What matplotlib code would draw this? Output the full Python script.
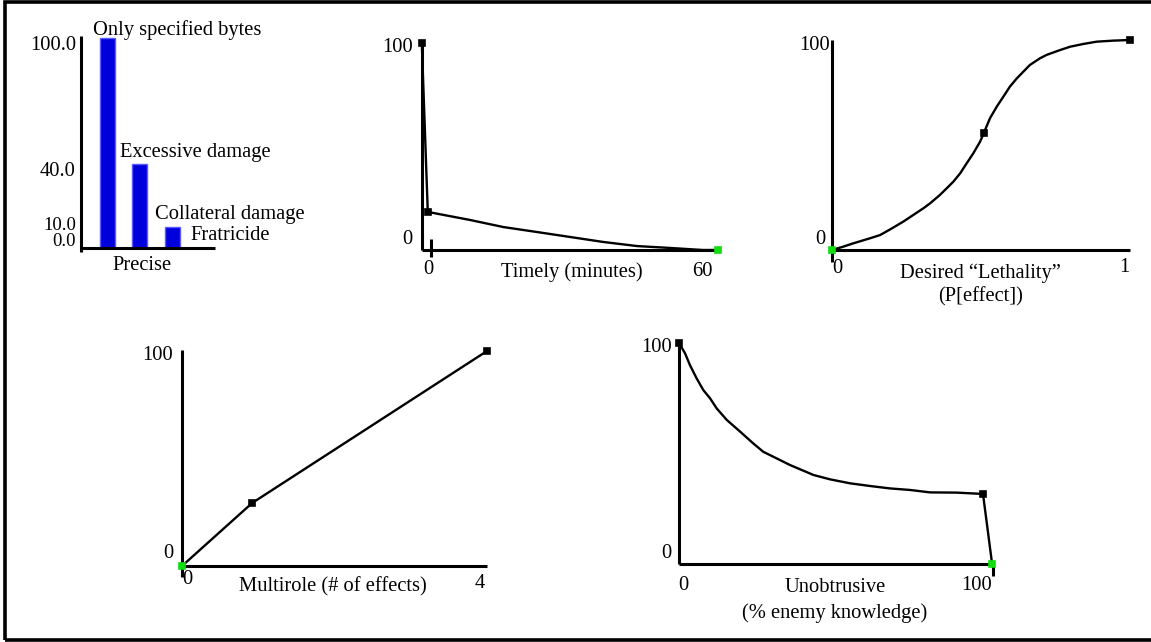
import matplotlib
matplotlib.use("Agg")
import matplotlib.pyplot as plt
from matplotlib.patches import Rectangle
from matplotlib.lines import Line2D

plt.rcParams['font.family'] = ['Liberation Serif', 'DejaVu Serif']

# ---------------- data ----------------
bar_labels = ["Only specified bytes", "Excessive damage", "Collateral damage", "Fratricide"]
bar_values = [100.0, 40.0, 10.0, 0.0]
bar_yticks = [100.0, 40.0, 10.0, 0.0]
bar_xlabel = "Precise"

timely_x = [-2.0, -0.7, 8.5, 15.7, 23.0, 30.2, 37.4, 44.8, 51.9, 59.1, 62.4]
timely_y = [100.0, 18.4, 14.5, 11.1, 8.7, 6.3, 3.9, 1.9, 1.0, 0.0, 0.0]
timely_xticks = [0, 60]
timely_yticks = [100, 0]
timely_xlabel = "Timely (minutes)"

leth_x = [0.0, 0.038, 0.072, 0.128, 0.161, 0.195, 0.239, 0.273, 0.306, 0.329,
          0.362, 0.385, 0.407, 0.430, 0.452, 0.474, 0.497, 0.510, 0.530, 0.553,
          0.575, 0.597, 0.620, 0.664, 0.698, 0.720, 0.765, 0.799, 0.843, 0.888,
          0.944, 1.0]
leth_y = [0.0, 1.6, 3.2, 5.6, 7.1, 9.8, 13.5, 16.7, 19.8, 22.2,
          26.2, 29.4, 32.5, 36.5, 41.3, 46.0, 51.6, 55.9, 62.7, 68.3,
          73.0, 77.8, 81.7, 88.1, 91.3, 92.9, 95.2, 96.8, 98.1, 99.2,
          99.7, 100.0]
leth_markers_idx = [17, 31]
leth_xticks = [0, 1]
leth_yticks = [100, 0]
leth_xlabel = ["Desired \u201cLethality\u201d", "(P[effect])"]

multi_x = [0.0, 0.92, 4.0]
multi_y = [0.0, 29.3, 100.0]
multi_xticks = [0, 4]
multi_yticks = [100, 0]
multi_xlabel = "Multirole (# of effects)"

unob_x = [0.0, 2.0, 3.6, 5.8, 8.0, 10.2, 12.4, 15.7, 20.1, 24.4, 27.7, 32.1,
          36.5, 44.2, 49.7, 56.3, 62.8, 69.4, 76.0, 82.6, 91.3, 100.0, 103.0]
unob_y = [100.0, 95.3, 90.0, 84.0, 78.7, 75.0, 70.4, 65.2, 59.9, 54.6, 50.8, 47.8,
          44.8, 40.3, 38.3, 36.5, 35.3, 34.2, 33.5, 32.4, 32.3, 31.7, 0.0]
unob_markers_idx = [0, 21]
unob_xticks = [0, 100]
unob_yticks = [100, 0]
unob_xlabel = ["Unobtrusive", "(% enemy knowledge)"]

# ---------------- figure ----------------
W, H = 1151, 642
fig = plt.figure(figsize=(W / 100, H / 100), dpi=100)
fig.patch.set_facecolor("white")

# outer border
fig.add_artist(Rectangle((4.5 / W, 1 - 639.5 / H), (1160 - 4.5) / W, (639.5 - 2) / H,
                         transform=fig.transFigure, fill=False, lw=2.6, ec="black"))

FS = 14.8
AX_LW = 2.2
CURVE_LW = 1.7
GREEN = "#11dd11"


def panel(px0, py0, sx, sy, box):
    """px0,py0: pixel of data origin; sx,sy: px per data unit; box=(l,t,r,b) pixels."""
    l, t, r, b = box
    ax = fig.add_axes([l / W, 1 - b / H, (r - l) / W, (b - t) / H])
    ax.set_xlim((l - px0) / sx, (r - px0) / sx)
    ax.set_ylim((py0 - b) / sy, (py0 - t) / sy)
    ax.set_facecolor("none")
    for s in ax.spines.values():
        s.set_visible(False)
    ax.set_xticks([])
    ax.set_yticks([])
    return ax


def vline(ax, x, y0, y1):
    ax.add_line(Line2D([x, x], [y0, y1], color="black", lw=AX_LW, solid_capstyle="butt"))


def hline(ax, y, x0, x1):
    ax.add_line(Line2D([x0, x1], [y, y], color="black", lw=AX_LW, solid_capstyle="butt"))


def lab(ax, s, x, y, dx=0, dy=0, ha="center", va="center", fs=FS):
    ax.annotate(s, (x, y), xytext=(dx, -dy), textcoords="offset pixels",
                ha=ha, va=va, fontsize=fs, annotation_clip=False)


def sq(ax, x, y, color):
    ax.plot([x], [y], marker="s", ms=5, mfc=color, mec="black" if color != GREEN else GREEN,
            mew=1.2, ls="none", zorder=5, clip_on=False)

# ---- Panel 1: bar chart ----
ax1 = panel(81, 248, 1.0, 2.1, (20, 15, 300, 285))
bar_x = [26, 58.5, 91]
ax1.bar(bar_x[:3], bar_values[:3], width=15, color="#0000dd", edgecolor="#5a5aff",
        lw=1.0, align="center", zorder=2)
vline(ax1, 0, -2, 101)
hline(ax1, 0, 0, 134)
tick_dy = {100.0: 7, 40.0: 8, 10.0: -1, 0.0: -6}
for v in bar_yticks:
    small = v in (10.0, 0.0)
    lab(ax1, f"{v:.1f}", 0, v, dx=-5, dy=tick_dy[v], ha="right",
        fs=13.5 if small else FS)
lab(ax1, bar_labels[0], 12, bar_values[0], dy=-8, ha="left")
lab(ax1, bar_labels[1], 39, bar_values[1], dy=-12, ha="left")
lab(ax1, bar_labels[2], 74, bar_values[2], dy=-13, ha="left")
lab(ax1, bar_labels[3], 109, bar_values[3], dy=-12, ha="left")
lab(ax1, bar_xlabel, 61, 0, dy=17)

# ---- Panel 2: Timely ----
ax2 = panel(431, 250, 4.6, 2.07, (375, 25, 740, 285))
vline(ax2, -2, 0, 100.5)
hline(ax2, 0, -2, 62.4)
vline(ax2, 0, -3.4, 5.3)
ax2.plot(timely_x, timely_y, color="black", lw=CURVE_LW, zorder=4, clip_on=False)
sq(ax2, timely_x[0], timely_y[0], "black")
sq(ax2, timely_x[1], timely_y[1], "black")
sq(ax2, timely_x[-1], timely_y[-1], GREEN)
lab(ax2, str(timely_yticks[0]), -2, 100, dx=-9, dy=5, ha="right")
lab(ax2, str(timely_yticks[1]), -2, 0, dx=-9, dy=-10, ha="right")
lab(ax2, str(timely_xticks[0]), 0, 0, dx=-3, dy=19)
lab(ax2, str(timely_xticks[1]), 60, 0, dx=-5, dy=22)
lab(ax2, timely_xlabel, 30.6, 0, dy=22)

# ---- Panel 3: Lethality ----
ax3 = panel(832, 250, 298, 2.1, (780, 25, 1150, 310))
vline(ax3, 0, -5.7, 100)
hline(ax3, 0, 0, 1.0)
ax3.plot(leth_x, leth_y, color="black", lw=CURVE_LW, zorder=4, clip_on=False)
for i in leth_markers_idx:
    sq(ax3, leth_x[i], leth_y[i], "black")
sq(ax3, leth_x[0], leth_y[0], GREEN)
lab(ax3, str(leth_yticks[0]), 0, 100, dx=-2, dy=5, ha="right")
lab(ax3, str(leth_yticks[1]), 0, 0, dx=-7, dy=-10, ha="right")
lab(ax3, str(leth_xticks[0]), 0, 0, dx=5, dy=19)
lab(ax3, str(leth_xticks[1]), 1, 0, dx=-6, dy=18)
lab(ax3, leth_xlabel[0], 0.497, 0, dy=23)
lab(ax3, leth_xlabel[1], 0.497, 0, dy=47)

# ---- Panel 4: Multirole ----
ax4 = panel(182, 566, 76.25, 2.15, (130, 335, 510, 610))
vline(ax4, 0, -5.1, 100.5)
hline(ax4, 0, 0, 4.0)
ax4.plot(multi_x, multi_y, color="black", lw=CURVE_LW, zorder=4, clip_on=False)
sq(ax4, multi_x[1], multi_y[1], "black")
sq(ax4, multi_x[2], multi_y[2], "black")
sq(ax4, multi_x[0], multi_y[0], GREEN)
lab(ax4, str(multi_yticks[0]), 0, 100, dx=-9, dy=4, ha="right")
lab(ax4, str(multi_yticks[1]), 0, 0, dx=-9, dy=-13, ha="right")
lab(ax4, str(multi_xticks[0]), 0, 0, dx=5, dy=13)
lab(ax4, str(multi_xticks[1]), 4, 0, dx=-7, dy=17)
lab(ax4, multi_xlabel, 1.98, 0, dy=21)

# ---- Panel 5: Unobtrusive ----
ax5 = panel(679, 564, 3.04, 2.21, (620, 330, 1040, 630))
vline(ax5, 0, 0, 100)
hline(ax5, 0, 0, 103.0)
vline(ax5, 103.3, -5.4, 0)
ax5.plot(unob_x, unob_y, color="black", lw=CURVE_LW, zorder=4, clip_on=False)
for i in unob_markers_idx:
    sq(ax5, unob_x[i], unob_y[i], "black")
sq(ax5, unob_x[-1], unob_y[-1], GREEN)
lab(ax5, str(unob_yticks[0]), 0, 100, dx=-7, dy=5, ha="right")
lab(ax5, str(unob_yticks[1]), 0, 0, dx=-7, dy=-11, ha="right")
lab(ax5, str(unob_xticks[0]), 0, 0, dx=4, dy=21)
lab(ax5, str(unob_xticks[1]), 100, 0, dx=-6, dy=21)
lab(ax5, unob_xlabel[0], 51.3, 0, dy=24)
lab(ax5, unob_xlabel[1], 51.3, 0, dy=49)

fig.savefig("out.png", dpi=100, facecolor="white")
